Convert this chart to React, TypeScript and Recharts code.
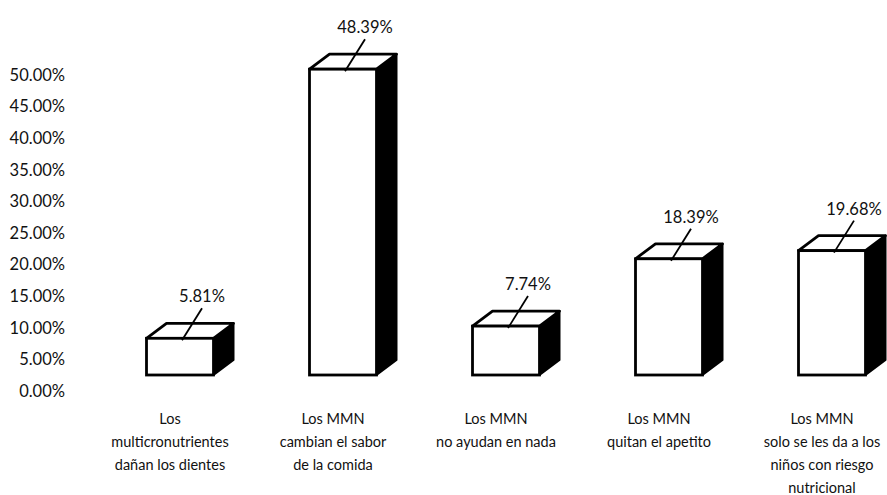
import React from "react";
import { BarChart, Bar, XAxis, YAxis, LabelList } from "recharts";

const categories = [
  "Los\nmulticronutrientes\ndañan los dientes",
  "Los MMN\ncambian el sabor\nde la comida",
  "Los MMN\nno ayudan en nada",
  "Los MMN\nquitan el apetito",
  "Los MMN\nsolo se les da a los\nniños con riesgo\nnutricional",
];
const values = [5.81, 48.39, 7.74, 18.39, 19.68];
const yTicks = [0, 5, 10, 15, 20, 25, 30, 35, 40, 45, 50];

const data = categories.map((c, i) => ({ name: c, value: values[i] }));

const FONT = "Lato, 'Open Sans', sans-serif";
const SHIFT_X = 10; // perspective shift of the bars
const LIFT = 16; // front face sits above the axis baseline
const DX = 20;
const DY = 15;

const Bar3D = (props: any) => {
  const { x, y, width, height } = props;
  const fx = x + SHIFT_X;
  const top = y - LIFT;
  const bottom = y + height - LIFT;
  const w = width;
  const topFace = `${fx},${top} ${fx + DX},${top - DY} ${fx + w + DX},${top - DY} ${fx + w},${top}`;
  const side = `${fx + w},${top} ${fx + w + DX},${top - DY} ${fx + w + DX},${bottom - DY} ${fx + w},${bottom}`;
  return (
    <g>
      <polygon points={side} fill="#000" stroke="#000" strokeWidth={2} strokeLinejoin="round" />
      <polygon points={topFace} fill="#fff" stroke="#000" strokeWidth={2.8} strokeLinejoin="round" />
      <rect x={fx} y={top} width={w} height={bottom - top} fill="#fff" stroke="#000" strokeWidth={2.8} />
    </g>
  );
};

const DataLabel = (props: any) => {
  const { x, y, width, value } = props;
  const cx = x + SHIFT_X + width / 2;
  const top = y - LIFT;
  const lx = cx + 22;
  const ly = top - 42;
  return (
    <g>
      <line x1={cx + 2} y1={top + 2} x2={lx} y2={ly + 12} stroke="#000" strokeWidth={1.8} />
      <text
        x={lx}
        y={ly}
        textAnchor="middle"
        dominantBaseline="central"
        fontFamily={FONT}
        fontSize={16.5}
        fill="#111"
      >
        {Number(value).toFixed(2)}%
      </text>
    </g>
  );
};

const CategoryTick = (props: any) => {
  const { x, y, payload } = props;
  const lines = String(payload.value).split("\n");
  return (
    <g>
      {lines.map((ln, i) => (
        <text
          key={i}
          x={x}
          y={y + 27 + i * 23}
          textAnchor="middle"
          dominantBaseline="central"
          fontFamily={FONT}
          fontSize={14.5}
          fill="#111"
        >
          {ln}
        </text>
      ))}
    </g>
  );
};

export default function App() {
  return (
    <div
      style={{
        position: "fixed",
        left: 0,
        top: 0,
        width: 887,
        height: 495,
        overflow: "hidden",
        background: "#fff",
      }}
    >
      <BarChart
        width={887}
        height={495}
        data={data}
        margin={{ top: 75, right: 0, bottom: 0, left: 0 }}
        barSize={67}
      >
        <XAxis
          dataKey="name"
          height={104}
          axisLine={false}
          tickLine={false}
          tickSize={0}
          tickMargin={0}
          interval={0}
          padding={{ left: 20.5, right: -16.5 }}
          tick={<CategoryTick />}
        />
        <YAxis
          width={68}
          domain={[0, 50]}
          ticks={yTicks}
          interval={0}
          axisLine={false}
          tickLine={false}
          tickSize={0}
          tickMargin={3}
          tickFormatter={(v: number) => `${v.toFixed(2)}%`}
          tick={{ fontFamily: FONT, fontSize: 16.5, fill: "#111" }}
        />
        <Bar dataKey="value" isAnimationActive={false} shape={<Bar3D />}>
          <LabelList dataKey="value" content={<DataLabel />} />
        </Bar>
      </BarChart>
    </div>
  );
}
